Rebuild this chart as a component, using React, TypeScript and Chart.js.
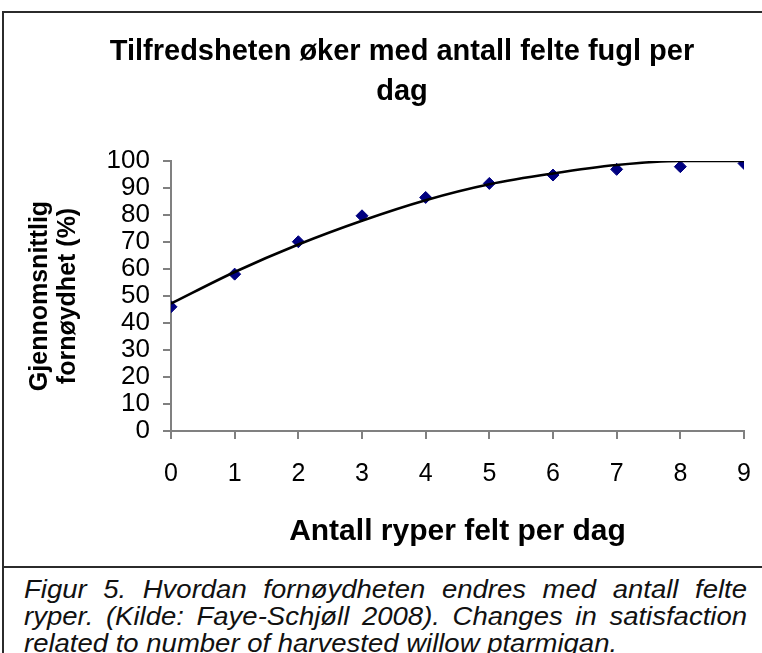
import { useEffect, useRef } from "react";
import { Chart, registerables } from "chart.js";

Chart.register(...registerables);

// ---- data ----
const harvested = [0, 1, 2, 3, 4, 5, 6, 7, 8, 9];
const satisfaction = [46.0, 58.1, 70.1, 79.7, 86.5, 91.7, 94.8, 96.9, 97.9, 99.1];
const trendValues = [47.2, 58.9, 69.1, 77.9, 85.5, 91.4, 95.4, 98.5, 100, 100];
const yTicks = { min: 0, max: 100, step: 10 };
const xTicks = { min: 0, max: 9, step: 1 };
const titleLines = ["Tilfredsheten øker med antall felte fugl per", "dag"];
const yTitleLines = ["Gjennomsnittlig", "fornøydhet (%)"];
const xTitle = "Antall ryper felt per dag";
const captionLines = [
  "Figur 5. Hvordan fornøydheten endres med antall felte",
  "ryper. (Kilde: Faye-Schjøll 2008). Changes in satisfaction",
  "related to number of harvested willow ptarmigan.",
];

const FONT = "'Liberation Sans', Arial, Helvetica, sans-serif";
const CANVAS_W = 796;
const CANVAS_H = 553;
const CAPTION_STRETCH = 1.1;

export default function App() {
  const canvasRef = useRef<HTMLCanvasElement | null>(null);

  useEffect(() => {
    const canvas = canvasRef.current;
    if (!canvas) return;
    const points = harvested.map((x, i) => ({ x, y: satisfaction[i] }));
    const trend = harvested.map((x, i) => ({ x, y: trendValues[i] }));

    const chart = new Chart(canvas, {
      type: "scatter",
      data: {
        datasets: [
          {
            label: "Trend",
            data: trend,
            showLine: true,
            borderColor: "#000000",
            borderWidth: 2.6,
            pointRadius: 0,
            cubicInterpolationMode: "monotone",
            order: 0,
          } as any,
          {
            label: "Fornøydhet",
            data: points,
            pointStyle: "rectRot",
            pointRadius: 6,
            backgroundColor: "#000080",
            borderColor: "#000080",
            borderWidth: 1,
            order: 1,
          } as any,
        ],
      },
      options: {
        responsive: false,
        animation: false,
        devicePixelRatio: 1,
        layout: { padding: { left: 0, right: 0, top: 0, bottom: 0 } },
        plugins: {
          legend: { display: false },
          tooltip: { enabled: false },
          title: {
            display: true,
            text: titleLines,
            color: "#000000",
            font: { family: FONT, size: 29, weight: "bold", lineHeight: 40 / 29 },
            padding: { top: 19, bottom: 49 },
          },
        },
        scales: {
          x: {
            type: "linear",
            min: xTicks.min,
            max: xTicks.max,
            afterFit: (scale: any) => {
              scale.height = 135;
            },
            ticks: {
              stepSize: xTicks.step,
              autoSkip: false,
              color: "#000000",
              font: { family: FONT, size: 25 },
              padding: 20,
            },
            grid: {
              drawOnChartArea: false,
              drawTicks: true,
              tickLength: 8,
              color: "#808080",
              lineWidth: 2,
            },
            border: { display: true, color: "#808080", width: 2 },
            title: {
              display: true,
              text: xTitle,
              color: "#000000",
              font: { family: FONT, size: 30, weight: "bold" },
              padding: { top: 0, bottom: 16 },
            },
          },
          y: {
            type: "linear",
            min: yTicks.min,
            max: yTicks.max,
            afterFit: (scale: any) => {
              scale.width = 167;
            },
            ticks: {
              stepSize: yTicks.step,
              autoSkip: false,
              color: "#000000",
              font: { family: FONT, size: 26, lineHeight: 1 },
              padding: 13,
            },
            grid: {
              drawOnChartArea: false,
              drawTicks: true,
              tickLength: 8,
              color: "#808080",
              lineWidth: 2,
            },
            border: { display: true, color: "#808080", width: 2 },
            title: {
              display: true,
              text: yTitleLines,
              color: "#000000",
              font: { family: FONT, size: 25, weight: "bold", lineHeight: 28 / 25 },
              padding: { top: 22, bottom: 0 },
            },
          },
          yRight: {
            type: "linear",
            position: "right",
            display: true,
            afterFit: (scale: any) => {
              scale.width = 56;
            },
            ticks: { display: false },
            grid: { display: false, drawTicks: false },
            border: { display: false },
            title: { display: false },
          },
        },
      } as any,
    });
    return () => chart.destroy();
  }, []);

  return (
    <div
      style={{
        position: "fixed",
        left: 0,
        top: 0,
        width: 762,
        height: 653,
        overflow: "hidden",
        background: "#ffffff",
      }}
    >
      <div
        style={{
          position: "absolute",
          left: 2,
          top: 11,
          width: 800,
          height: 557,
          boxSizing: "border-box",
          border: "2px solid #2b2b2b",
          background: "#ffffff",
        }}
      >
        <canvas
          ref={canvasRef}
          width={CANVAS_W}
          height={CANVAS_H}
          style={{ display: "block", width: CANVAS_W, height: CANVAS_H }}
        />
      </div>
      <div
        style={{
          position: "absolute",
          left: 2,
          top: 568,
          width: 800,
          height: 200,
          boxSizing: "border-box",
          borderLeft: "2px solid #2b2b2b",
          background: "#ffffff",
        }}
      >
        <div
          style={{
            position: "absolute",
            left: 20,
            top: 8,
            width: 723 / CAPTION_STRETCH,
            transform: `scaleX(${CAPTION_STRETCH})`,
            transformOrigin: "left top",
            fontFamily: FONT,
            fontStyle: "italic",
            fontSize: 25,
            lineHeight: "27px",
            color: "#111111",
          }}
        >
          {captionLines.map((line, i) => (
            <div
              key={i}
              style={{
                textAlign: i < captionLines.length - 1 ? "justify" : "left",
                textAlignLast: i < captionLines.length - 1 ? "justify" : "left",
                whiteSpace: "nowrap",
              }}
            >
              {line}
            </div>
          ))}
        </div>
      </div>
    </div>
  );
}
